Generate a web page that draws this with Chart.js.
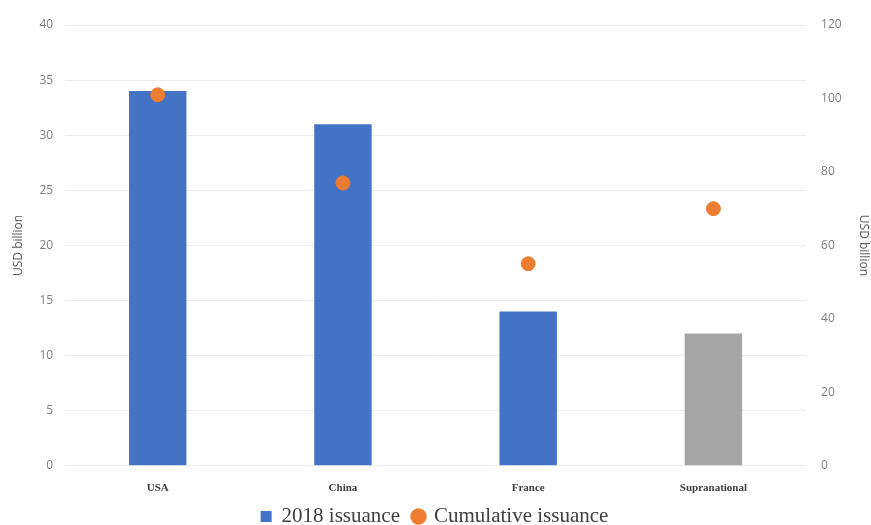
<!DOCTYPE html>
<html>
<head>
<meta charset="utf-8">
<script src="https://cdn.jsdelivr.net/npm/chart.js@4"></script>
<style>
html,body{margin:0;padding:0;background:#fff;}
#wrap{width:871px;height:525px;}
</style>
</head>
<body>
<div id="wrap"><canvas id="c" width="871" height="525"></canvas></div>
<script>
const categories = ["USA", "China", "France", "Supranational"];
const issuance2018 = [34, 31, 14, 12];
const cumulativeIssuance = [101, 77, 55, 70];
const leftTicks = [0, 5, 10, 15, 20, 25, 30, 35, 40];
const rightTicks = [0, 20, 40, 60, 80, 100, 120];
const barColors = ["#4472C4", "#4472C4", "#4472C4", "#A5A5A5"];

new Chart(document.getElementById('c'), {
  type: 'bar',
  data: {
    labels: categories,
    datasets: [
      {
        label: '2018 issuance',
        data: issuance2018,
        backgroundColor: barColors,
        yAxisID: 'y',
        barPercentage: 0.62,
        categoryPercentage: 0.5,
        pointStyle: 'rect',
        order: 2
      },
      {
        type: 'line',
        label: 'Cumulative issuance',
        data: cumulativeIssuance,
        yAxisID: 'y1',
        showLine: false,
        pointRadius: 7,
        pointHoverRadius: 7,
        pointBackgroundColor: '#ED7D31',
        pointBorderColor: '#ED7D31',
        backgroundColor: '#ED7D31',
        borderColor: '#ED7D31',
        pointStyle: 'circle',
        order: 1
      }
    ]
  },
  options: {
    responsive: false,
    animation: false,
    layout: { padding: { top: 25, left: 9, right: 0, bottom: -12 } },
    plugins: {
      tooltip: { enabled: false },
      legend: {
        position: 'bottom',
        labels: {
          usePointStyle: true,
          boxWidth: 10,
          boxHeight: 11,
          padding: 3,
          color: '#404040',
          font: { family: 'Liberation Serif', size: 21 },
          sort: (a, b) => a.datasetIndex - b.datasetIndex,
          generateLabels: (chart) => {
            const items = Chart.defaults.plugins.legend.labels.generateLabels(chart);
            items.forEach(it => { it.text = it.text + '  '; });
            return items;
          }
        }
      }
    },
    scales: {
      x: {
        grid: { display: false },
        border: { display: false },
        ticks: {
          color: '#404040',
          font: { family: 'Liberation Serif', size: 11, weight: 'bold' },
          padding: 8
        }
      },
      y: {
        position: 'left',
        min: 0, max: 40,
        afterBuildTicks: (s) => { s.ticks = leftTicks.map(v => ({ value: v })); },
        grid: { color: '#ececec', drawTicks: false },
        border: { display: false },
        ticks: { color: '#7f7f7f', font: { family: 'Open Sans', size: 12 }, padding: 12 },
        title: { display: true, text: 'USD billion', color: '#595959', font: { family: 'Open Sans', size: 12 }, padding: 2 }
      },
      y1: {
        position: 'right',
        min: 0, max: 120,
        afterBuildTicks: (s) => { s.ticks = rightTicks.map(v => ({ value: v })); },
        grid: { display: false, drawTicks: false },
        border: { display: false },
        ticks: { color: '#7f7f7f', font: { family: 'Open Sans', size: 12 }, padding: 15 },
        title: { display: true, text: 'USD billion', color: '#595959', font: { family: 'Open Sans', size: 12 }, padding: 0 }
      }
    }
  }
});
</script>
</body>
</html>
